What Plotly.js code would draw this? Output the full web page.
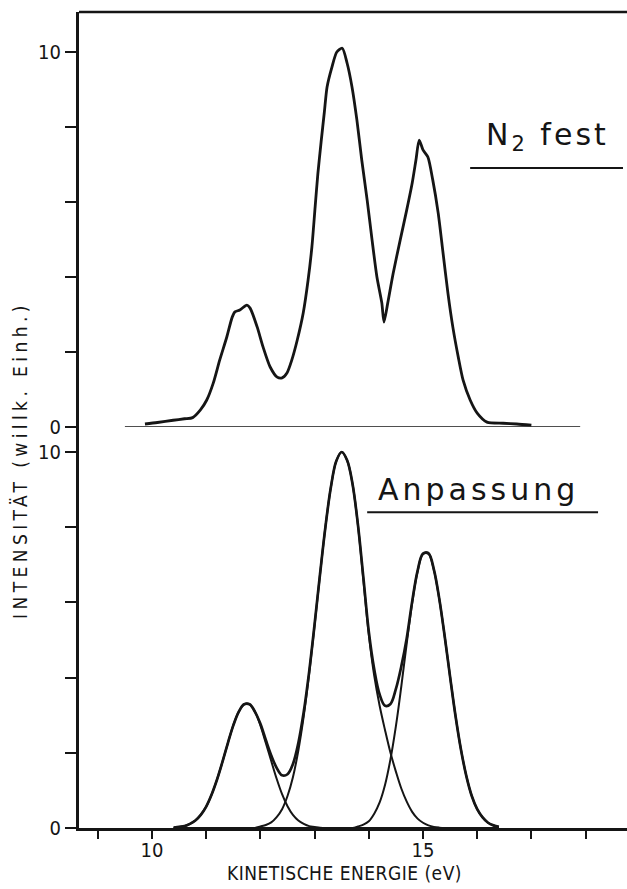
<!DOCTYPE html>
<html>
<head>
<meta charset="utf-8">
<script src="https://cdn.plot.ly/plotly-3.0.1.min.js"></script>
<style>
  html, body { margin: 0; padding: 0; background: #ffffff; }
  #chart { width: 627px; height: 889px; }
</style>
</head>
<body>
<div id="chart"></div>
<script>
// Measured photoelectron spectrum of solid N2 (upper panel)
const measuredEnergy = [9.87, 10.1, 10.39, 10.6, 10.75, 10.89, 11.01, 11.13, 11.25, 11.38, 11.48, 11.53,
  11.62, 11.75, 11.81, 11.94, 12.05, 12.18, 12.31, 12.4, 12.49, 12.58, 12.68, 12.79, 12.88, 12.95,
  13.01, 13.06, 13.12, 13.18, 13.23, 13.32, 13.41, 13.51, 13.6, 13.69, 13.78, 13.87, 13.97, 14.06,
  14.15, 14.24, 14.28, 14.35, 14.45, 14.58, 14.7, 14.8, 14.87, 14.93, 15.0, 15.09, 15.18, 15.28,
  15.37, 15.46, 15.55, 15.65, 15.74, 15.87, 16.0, 16.18, 16.48, 16.73, 17.0];
const measuredIntensity = [0.08, 0.12, 0.18, 0.22, 0.25, 0.45, 0.72, 1.17, 1.79, 2.4, 2.93, 3.07,
  3.12, 3.25, 3.17, 2.67, 2.13, 1.6, 1.33, 1.31, 1.44, 1.79, 2.32, 3.04, 3.92, 4.8,
  5.87, 6.75, 7.6, 8.4, 9.07, 9.6, 10.0, 10.1, 9.7, 9.07, 8.19, 7.12, 6.05, 4.99,
  4.0, 3.31, 2.8, 3.31, 4.1, 4.99, 5.79, 6.5, 7.12, 7.65, 7.39, 7.2, 6.59, 5.71,
  4.64, 3.57, 2.67, 1.87, 1.25, 0.72, 0.37, 0.13, 0.1, 0.08, 0.05];

// Zero line of the upper panel
const upperBaseEnergy = [9.5, 17.9];
const upperBaseIntensity = [0, 0];

// Fit (lower panel): energy grid, three components and their envelope
const fitEnergy = [10.4, 10.5, 10.6, 10.7, 10.8, 10.9, 11.0, 11.1, 11.2, 11.3, 11.4, 11.5, 11.6, 11.7,
  11.8, 11.9, 12.0, 12.1, 12.2, 12.3, 12.4, 12.5, 12.6, 12.7, 12.8, 12.9, 13.0, 13.1, 13.2, 13.3,
  13.4, 13.5, 13.6, 13.7, 13.8, 13.9, 14.0, 14.1, 14.2, 14.3, 14.4, 14.5, 14.6, 14.7, 14.8, 14.9,
  15.0, 15.1, 15.2, 15.3, 15.4, 15.5, 15.6, 15.7, 15.8, 15.9, 16.0, 16.1, 16.2, 16.3, 16.4];
const fitPeak1 = [0.01, 0.03, 0.05, 0.11, 0.2, 0.35, 0.57, 0.89, 1.29, 1.76, 2.26, 2.73, 3.09, 3.29,
  3.29, 3.09, 2.73, 2.26, 1.78, 1.31, 0.9, 0.58, 0.35, 0.2, 0.11, 0.05, 0.03, 0.01, 0, 0,
  0, 0, 0, 0, 0, 0, 0, 0, 0, 0, 0, 0, 0, 0, 0, 0,
  0, 0, 0, 0, 0, 0, 0, 0, 0, 0, 0, 0, 0, 0, 0];
const fitPeak2 = [0, 0, 0, 0, 0, 0, 0, 0, 0, 0, 0, 0, 0, 0,
  0, 0, 0.04, 0.08, 0.15, 0.29, 0.5, 0.85, 1.35, 2.06, 2.98, 4.11, 5.39, 6.74, 8.01, 9.06,
  9.76, 10.0, 9.78, 9.15, 8.05, 6.6, 5.15, 4.05, 3.25, 2.6, 2.0, 1.5, 1.05, 0.7, 0.43, 0.25,
  0.14, 0.07, 0.03, 0.01, 0, 0, 0, 0, 0, 0, 0, 0, 0, 0, 0];
const fitPeak3 = [0, 0, 0, 0, 0, 0, 0, 0, 0, 0, 0, 0, 0, 0,
  0, 0, 0, 0, 0, 0, 0, 0, 0, 0, 0, 0, 0, 0, 0, 0,
  0, 0, 0, 0, 0.04, 0.09, 0.18, 0.38, 0.68, 1.15, 1.83, 2.71, 3.77, 4.91, 5.98, 6.82,
  7.28, 7.29, 6.87, 6.09, 5.1, 4.02, 2.98, 2.09, 1.38, 0.85, 0.5, 0.28, 0.14, 0.07, 0.03];
const fitEnvelope = [0.01, 0.03, 0.05, 0.11, 0.2, 0.35, 0.57, 0.89, 1.29, 1.76, 2.26, 2.73, 3.09, 3.29,
  3.29, 3.09, 2.77, 2.34, 1.93, 1.6, 1.4, 1.43, 1.7, 2.26, 3.09, 4.16, 5.42, 6.75, 8.01, 9.06,
  9.76, 10.0, 9.78, 9.15, 8.06, 6.66, 5.22, 4.22, 3.55, 3.25, 3.3, 3.7, 4.3, 5.05, 6.02, 6.84,
  7.3, 7.31, 6.88, 6.1, 5.1, 4.02, 2.98, 2.09, 1.38, 0.85, 0.5, 0.28, 0.14, 0.07, 0.03];

// Axis ticks: labelled major ticks plus unlabelled minor ticks
const energyLabelTicks = [10, 15];
const energyLabels = ['10', '15'];
const energyMinorTicks = [9, 11, 12, 13, 14, 16, 17, 18];
const intensityLabelTicks = [0, 10];
const intensityLabels = ['0', '10'];
const intensityMinorTicks = [2, 4, 6, 8];

const ink = '#151515';
const condensed = 'DejaVu Sans Condensed, DejaVu Sans, sans-serif';
const tickFont = { family: condensed, size: 20, color: ink };

const traces = [
  { x: upperBaseEnergy, y: upperBaseIntensity, xaxis: 'x', yaxis: 'y2', mode: 'lines',
    line: { color: ink, width: 1.6 }, hoverinfo: 'skip' },
  { x: measuredEnergy, y: measuredIntensity, xaxis: 'x', yaxis: 'y2', mode: 'lines',
    line: { color: ink, width: 2.8, shape: 'spline', smoothing: 0.7 } },
  { x: fitEnergy, y: fitPeak1, xaxis: 'x', yaxis: 'y', mode: 'lines',
    line: { color: ink, width: 2.0, shape: 'spline', smoothing: 1 } },
  { x: fitEnergy, y: fitPeak2, xaxis: 'x', yaxis: 'y', mode: 'lines',
    line: { color: ink, width: 2.0, shape: 'spline', smoothing: 1 } },
  { x: fitEnergy, y: fitPeak3, xaxis: 'x', yaxis: 'y', mode: 'lines',
    line: { color: ink, width: 2.0, shape: 'spline', smoothing: 1 } },
  { x: fitEnergy, y: fitEnvelope, xaxis: 'x', yaxis: 'y', mode: 'lines',
    line: { color: ink, width: 2.7, shape: 'spline', smoothing: 1 } }
];

const split = 401 / 816;

function intensityAxis(domain, top) {
  return {
    domain: domain, range: [0, top], anchor: 'x', showgrid: false, zeroline: false,
    showline: true, linecolor: ink, linewidth: 3,
    ticks: 'outside', ticklen: 11, tickwidth: 2, tickcolor: ink,
    tickvals: intensityLabelTicks, ticktext: intensityLabels, tickfont: tickFont,
    minor: { tickvals: intensityMinorTicks, ticks: 'outside', ticklen: 11, tickwidth: 2,
      tickcolor: ink, showgrid: false }
  };
}

const layout = {
  width: 627, height: 889,
  margin: { l: 79, r: 0, t: 12, b: 61 },
  paper_bgcolor: '#ffffff', plot_bgcolor: '#ffffff',
  showlegend: false,
  xaxis: {
    range: [8.653, 18.764], showgrid: false, zeroline: false,
    showline: true, linecolor: ink, linewidth: 2.5,
    ticks: 'outside', ticklen: 8, tickwidth: 2, tickcolor: ink,
    tickvals: energyLabelTicks, ticktext: energyLabels, tickfont: tickFont,
    ticklabelstandoff: -6,
    minor: { tickvals: energyMinorTicks, ticks: 'outside', ticklen: 8, tickwidth: 2,
      tickcolor: ink, showgrid: false }
  },
  yaxis: intensityAxis([0, split], 10.665),
  yaxis2: intensityAxis([split, 1], 11.067),
  shapes: [
    // frame top edge
    { type: 'line', xref: 'paper', yref: 'paper', x0: 0, x1: 1, y0: 1, y1: 1,
      line: { color: ink, width: 2.5 } },
    // underline of the upper label
    { type: 'line', xref: 'x', yref: 'y2', x0: 15.87, x1: 18.69, y0: 6.91, y1: 6.91,
      line: { color: ink, width: 2 } },
    // underline of the lower label
    { type: 'line', xref: 'x', yref: 'y', x0: 13.97, x1: 18.23, y0: 8.4, y1: 8.4,
      line: { color: ink, width: 2 } }
  ],
  annotations: [
    { xref: 'x', yref: 'y2', x: 17.3, y: 7.75, xanchor: 'center', yanchor: 'middle', showarrow: false,
      text: '<span style="letter-spacing:3px">N<sub>2</sub> fest</span>',
      font: { family: 'DejaVu Sans', size: 30, color: ink } },
    { xref: 'x', yref: 'y', x: 16.03, y: 9.0, xanchor: 'center', yanchor: 'middle', showarrow: false,
      text: '<span style="letter-spacing:4px">Anpassung</span>',
      font: { family: 'DejaVu Sans', size: 30, color: ink } },
    { xref: 'paper', yref: 'paper', x: 0.485, y: -0.0555, xanchor: 'center', yanchor: 'middle', showarrow: false,
      text: '<span style="letter-spacing:0.5px">KINETISCHE ENERGIE (eV)</span>',
      font: { family: condensed, size: 19, color: ink } },
    { xref: 'paper', yref: 'paper', x: -0.1077, y: 0.451, xanchor: 'center', yanchor: 'middle', showarrow: false,
      textangle: -90,
      text: '<span style="letter-spacing:4.4px">INTENSITÄT (willk. Einh.)</span>',
      font: { family: condensed, size: 19, color: ink } }
  ]
};

Plotly.newPlot('chart', traces, layout, { displayModeBar: false, staticPlot: true });
</script>
</body>
</html>
